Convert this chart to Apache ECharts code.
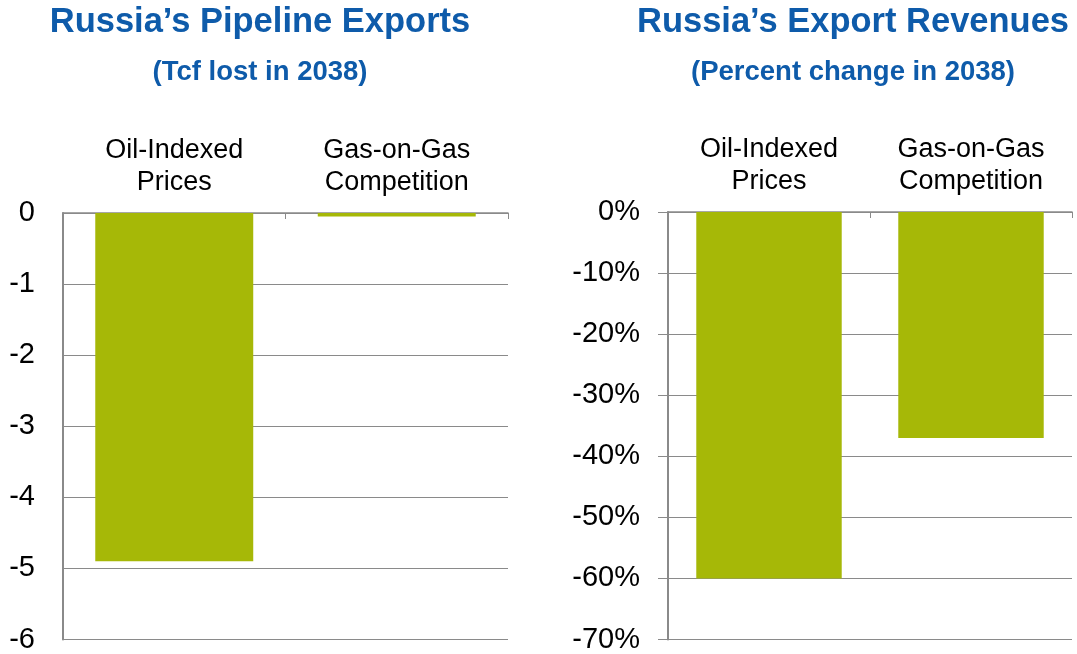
<!DOCTYPE html>
<html>
<head>
<meta charset="utf-8">
<script src="https://cdn.jsdelivr.net/npm/echarts@6/dist/echarts.min.js"></script>
<style>
  html, body { margin: 0; padding: 0; background: #fff; }
  #chart { width: 1077px; height: 654px; }
</style>
</head>
<body>
<div id="chart"></div>
<script>
// scenario labels (shared by both panels)
const categories = ["Oil-Indexed\nPrices", "Gas-on-Gas\nCompetition"]

// left panel: Tcf lost in 2038
const pipelineLoss = [-4.9, -0.05]
const pipelineTicks = { min: -6, max: 0, interval: 1 }

// right panel: percent change in 2038
const revenueChange = [-60, -37]
const revenueTicks = { min: -70, max: 0, interval: 10 }

const titles = [
  { text: "Russia\u2019s Pipeline Exports", sub: "(Tcf lost in 2038)", x: 260 },
  { text: "Russia\u2019s Export Revenues", sub: "(Percent change in 2038)", x: 853 }
]

const FONT = "'Liberation Sans', Arial, sans-serif"
const BLUE = "#0E5BAA"
const BAR = "#A6B807"
const GREY = "#8A8A8A"

const chart = echarts.init(document.getElementById("chart"))

const makeX = gridIndex => ({
  type: "category",
  gridIndex,
  position: "top",
  data: categories,
  axisLine: { lineStyle: { color: GREY, width: 1.5 } },
  axisTick: { show: true, inside: true, length: 6, lineStyle: { color: GREY } },
  axisLabel: {
    color: "#000",
    fontFamily: FONT,
    fontSize: 27,
    lineHeight: 32,
    margin: 14
  },
  splitLine: { show: false }
})

const makeY = (gridIndex, ticks, fmt, showTick) => ({
  type: "value",
  gridIndex,
  min: ticks.min,
  max: ticks.max,
  interval: ticks.interval,
  axisLine: { show: true, lineStyle: { color: GREY, width: 2 } },
  axisTick: { show: showTick, length: 10, lineStyle: { color: GREY } },
  axisLabel: {
    color: "#000",
    fontFamily: FONT,
    fontSize: 29,
    margin: 28,
    formatter: fmt
  },
  splitLine: { show: true, lineStyle: { color: GREY, width: 1.2 } }
})

const option = {
  backgroundColor: "#fff",
  animation: false,
  graphic: titles.flatMap(t => [
    {
      type: "text",
      x: t.x,
      y: 22,
      style: {
        text: t.text,
        fill: BLUE,
        font: "bold 34.5px " + FONT,
        textAlign: "center",
        textVerticalAlign: "middle"
      }
    },
    {
      type: "text",
      x: t.x,
      y: 72,
      style: {
        text: t.sub,
        fill: BLUE,
        font: "bold 27.5px " + FONT,
        textAlign: "center",
        textVerticalAlign: "middle"
      }
    }
  ]),
  grid: [
    { left: 63, right: 569, top: 213, bottom: 14 },
    { left: 668, right: 5, top: 212, bottom: 14 }
  ],
  xAxis: [makeX(0), makeX(1)],
  yAxis: [
    makeY(0, pipelineTicks, v => String(v), false),
    makeY(1, revenueTicks, v => v + "%", true)
  ],
  series: [
    {
      name: "Pipeline exports",
      type: "bar",
      xAxisIndex: 0,
      yAxisIndex: 0,
      data: pipelineLoss,
      barWidth: "71%",
      itemStyle: { color: BAR }
    },
    {
      name: "Export revenues",
      type: "bar",
      xAxisIndex: 1,
      yAxisIndex: 1,
      data: revenueChange,
      barWidth: "72%",
      itemStyle: { color: BAR }
    }
  ]
}

chart.setOption(option)
</script>
</body>
</html>
